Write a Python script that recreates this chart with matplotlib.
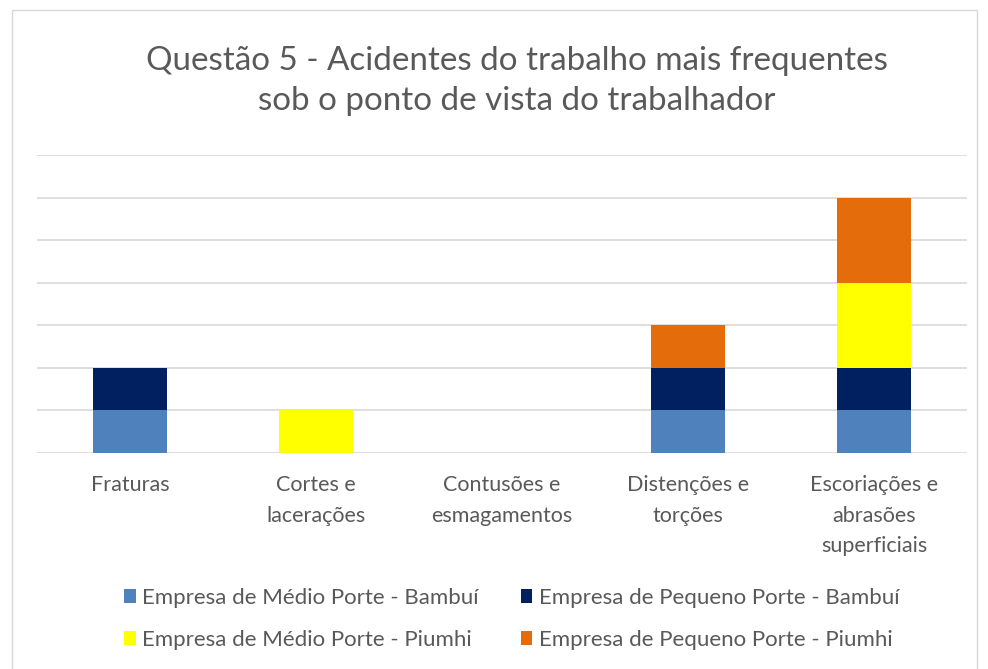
import matplotlib
matplotlib.use("Agg")
import matplotlib.pyplot as plt
import numpy as np

categories = ["Fraturas", "Cortes e\nlacerações", "Contusões e\nesmagamentos",
              "Distenções e\ntorções", "Escoriações e\nabrasões\nsuperficiais"]
series = ["Empresa de Médio Porte - Bambuí", "Empresa de Pequeno Porte - Bambuí",
          "Empresa de Médio Porte - Piumhi", "Empresa de Pequeno Porte - Piumhi"]
medio_bambui = [1, 0, 0, 1, 1]
pequeno_bambui = [1, 0, 0, 1, 1]
medio_piumhi = [0, 1, 0, 0, 2]
pequeno_piumhi = [0, 0, 0, 1, 2]
colors = ["#4F81BD", "#002060", "#FFFF00", "#E46C0A"]

plt.rcParams["font.family"] = ["Lato", "DejaVu Sans"]
txt = "#595959"

fig = plt.figure(figsize=(9.88, 6.69), dpi=100)
ax = fig.add_axes([37 / 988, 1 - 453 / 669, 930 / 988, 298 / 669])

x = np.arange(len(categories))
bottom = np.zeros(len(categories))
for name, vals, c in zip(series, [medio_bambui, pequeno_bambui, medio_piumhi, pequeno_piumhi], colors):
    ax.bar(x, vals, 0.4, bottom=bottom, color=c, label=name, zorder=3)
    bottom += np.array(vals)

ax.set_xlim(-0.5, len(categories) - 0.5)
ax.set_ylim(0, 7)
ax.set_yticks(range(0, 8))
ax.yaxis.grid(True, color="#D9D9D9", lw=1.2, zorder=0)
ax.tick_params(axis="y", length=0, labelleft=False)
ax.tick_params(axis="x", length=0, pad=16, labelsize=15.5, labelcolor=txt)
ax.set_xticks(x)
ax.set_xticklabels(categories, va="top", linespacing=1.65)
for s in ax.spines.values():
    s.set_visible(False)

fig.text(517 / 988, 1 - 81 / 669, "Questão 5 - Acidentes do trabalho mais frequentes\nsob o ponto de vista do trabalhador",
         ha="center", va="center", fontsize=23.9, color=txt, linespacing=1.45)

# legend filled row by row, as in the original
handles, labels = ax.get_legend_handles_labels()
order = [0, 2, 1, 3]
leg = fig.legend([handles[i] for i in order], [labels[i] for i in order],
                 loc="center", bbox_to_anchor=(512 / 988, 1 - 619 / 669), ncol=2, frameon=False,
                 fontsize=16.0, handlelength=0.5, handleheight=0.6, handletextpad=0.3,
                 columnspacing=1.9, labelspacing=1.0)
for t in leg.get_texts():
    t.set_color(txt)

fig.patches.append(plt.Rectangle((12 / 988, -0.01), 965 / 988, 1 - 10 / 669 + 0.01,
                                 transform=fig.transFigure, fill=False, ec="#D9D9D9", lw=1))

fig.savefig("out.png", dpi=100)
